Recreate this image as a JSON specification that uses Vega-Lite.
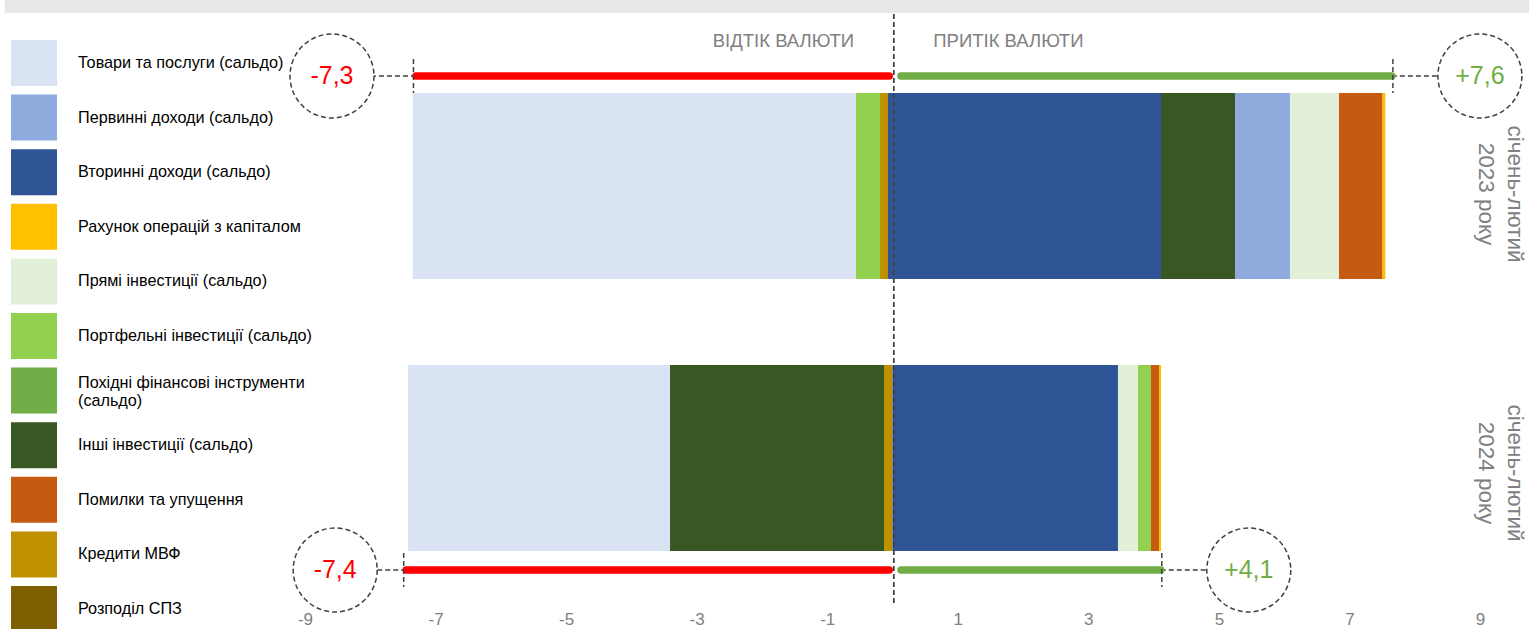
{
  "$schema": "https://vega.github.io/schema/vega-lite/v6.json",
  "autosize": "none",
  "width": 1175,
  "height": 590,
  "padding": {"left": 305, "top": 14, "right": 49, "bottom": 25},
  "background": "#ffffff",
  "config": {
    "view": {"stroke": null},
    "font": "Liberation Sans",
    "axisX": {"domain": false, "ticks": false, "grid": false, "labelFontSize": 17, "labelColor": "#808080", "labelPadding": 7, "labelFont": "Liberation Sans", "labelFlush": false, "title": null}
  },
  "datasets": {
    "bars": [
      {"period": "2023", "category": "Товари та послуги (сальдо)", "x0": -7.35, "x1": -0.559},
      {"period": "2023", "category": "Портфельні інвестиції (сальдо)", "x0": -0.559, "x1": -0.191},
      {"period": "2023", "category": "Кредити МВФ", "x0": -0.191, "x1": -0.069},
      {"period": "2023", "category": "Вторинні доходи (сальдо)", "x0": -0.069, "x1": 4.113},
      {"period": "2023", "category": "Інші інвестиції (сальдо)", "x0": 4.113, "x1": 5.247},
      {"period": "2023", "category": "Первинні доходи (сальдо)", "x0": 5.247, "x1": 6.089},
      {"period": "2023", "category": "Прямі інвестиції (сальдо)", "x0": 6.089, "x1": 6.84},
      {"period": "2023", "category": "Помилки та упущення", "x0": 6.84, "x1": 7.508},
      {"period": "2023", "category": "Рахунок операцій з капіталом", "x0": 7.508, "x1": 7.55},
      {"period": "2024", "category": "Товари та послуги (сальдо)", "x0": -7.42, "x1": -3.408},
      {"period": "2024", "category": "Інші інвестиції (сальдо)", "x0": -3.408, "x1": -0.13},
      {"period": "2024", "category": "Кредити МВФ", "x0": -0.13, "x1": 0},
      {"period": "2024", "category": "Вторинні доходи (сальдо)", "x0": 0, "x1": 3.454},
      {"period": "2024", "category": "Прямі інвестиції (сальдо)", "x0": 3.454, "x1": 3.761},
      {"period": "2024", "category": "Портфельні інвестиції (сальдо)", "x0": 3.761, "x1": 3.96},
      {"period": "2024", "category": "Помилки та упущення", "x0": 3.96, "x1": 4.083},
      {"period": "2024", "category": "Рахунок операцій з капіталом", "x0": 4.083, "x1": 4.114}
    ],
    "totals": [
      {"period": "2023", "side": "out", "end": -7.3, "inner": -0.05, "label": "-7,3"},
      {"period": "2023", "side": "in", "end": 7.65, "inner": 0.13, "label": "+7,6"},
      {"period": "2024", "side": "out", "end": -7.45, "inner": -0.05, "label": "-7,4"},
      {"period": "2024", "side": "in", "end": 4.11, "inner": 0.13, "label": "+4,1"}
    ],
    "periods": [
      {"period": "2023", "name": "січень-лютий\n2023 року"},
      {"period": "2024", "name": "січень-лютий\n2024 року"}
    ],
    "headers": [
      {"period": "2023", "text": "ВІДТІК ВАЛЮТИ", "side": "out"},
      {"period": "2023", "text": "ПРИТІК ВАЛЮТИ", "side": "in"}
    ],
    "band": [
      {"period": "2023", "from": -13.6, "to": 12}
    ]
  },
  "layer": [
    {
      "data": {"name": "band"},
      "mark": {"type": "rule", "stroke": "#e8e8e8", "strokeWidth": 13, "strokeCap": "butt", "yOffset": -179.5},
      "encoding": {
        "x": {"field": "from", "type": "quantitative"},
        "x2": {"field": "to"},
        "y": {"field": "period", "type": "nominal", "axis": null}
      }
    },
    {
      "data": {"name": "bars"},
      "mark": {"type": "bar"},
      "encoding": {
        "x": {"field": "x0", "type": "quantitative", "scale": {"domain": [-9, 9], "nice": false, "zero": false}, "axis": {"values": [-9, -7, -5, -3, -1, 1, 3, 5, 7, 9], "labelExpr": "'' + datum.value"}},
        "x2": {"field": "x1"},
        "y": {"field": "period", "type": "nominal", "axis": null, "scale": {"type": "band", "domain": ["2023", "2024"], "range": [79, 537], "paddingInner": 0.3162, "paddingOuter": 0, "round": false}},
        "color": {
          "field": "category",
          "type": "nominal",
          "scale": {
            "domain": ["Товари та послуги (сальдо)", "Первинні доходи (сальдо)", "Вторинні доходи (сальдо)", "Рахунок операцій з капіталом", "Прямі інвестиції (сальдо)", "Портфельні інвестиції (сальдо)", "Похідні фінансові інструменти (сальдо)", "Інші інвестиції (сальдо)", "Помилки та упущення", "Кредити МВФ", "Розподіл СПЗ"],
            "range": ["#DAE3F3", "#8FAADC", "#2F5597", "#FFC000", "#E2F0D9", "#92D050", "#70AD47", "#385723", "#C55A11", "#BF9000", "#7F6000"]
          },
          "legend": {
            "title": null,
            "orient": "none",
            "legendX": -294,
            "legendY": 26,
            "direction": "vertical",
            "columns": 1,
            "padding": 0,
            "symbolType": "square",
            "symbolSize": 2116,
            "symbolStrokeWidth": 0,
            "symbolOpacity": 1,
            "labelFontSize": 16.2,
            "labelFont": "Liberation Sans",
            "labelColor": "#000000",
            "labelLimit": 0,
            "labelOffset": 21,
            "rowPadding": 8.6,
            "labelBaseline": {"expr": "datum.label == 'Похідні фінансові інструменти (сальдо)' ? 'bottom' : 'middle'"},
            "labelExpr": "datum.label == 'Похідні фінансові інструменти (сальдо)' ? ['Похідні фінансові інструменти', '(сальдо)'] : ((datum.label == 'Прямі інвестиції (сальдо)' || datum.label == 'Портфельні інвестиції (сальдо)') ? '\u00a0' + datum.label : datum.label)"
          }
        }
      }
    },
    {
      "data": {"name": "totals"},
      "mark": {"type": "rule", "stroke": "#404040", "strokeWidth": 1.5, "strokeDash": [5, 3], "yOffset": {"expr": "datum.period == '2023' ? -110 : 112"}, "x2Offset": {"expr": "datum.side == 'out' ? (datum.period == '2023' ? -84 : -71) : 88"}},
      "encoding": {
        "x": {"field": "end", "type": "quantitative"},
        "x2": {"field": "end"},
        "y": {"field": "period", "type": "nominal", "axis": null}
      }
    },
    {
      "data": {"name": "totals"},
      "transform": [{"filter": "datum.side == 'out'"}],
      "mark": {"type": "rule", "stroke": "#FF0000", "strokeWidth": 7.5, "strokeCap": "round", "yOffset": {"expr": "datum.period == '2023' ? -110 : 112"}},
      "encoding": {
        "x": {"field": "end", "type": "quantitative"},
        "x2": {"field": "inner"},
        "y": {"field": "period", "type": "nominal", "axis": null}
      }
    },
    {
      "data": {"name": "totals"},
      "transform": [{"filter": "datum.side == 'in'"}],
      "mark": {"type": "rule", "stroke": "#70AD47", "strokeWidth": 7.5, "strokeCap": "round", "yOffset": {"expr": "datum.period == '2023' ? -110 : 112"}},
      "encoding": {
        "x": {"field": "inner", "type": "quantitative"},
        "x2": {"field": "end"},
        "y": {"field": "period", "type": "nominal", "axis": null}
      }
    },
    {
      "data": {"values": [{}]},
      "mark": {"type": "rule", "stroke": "#404040", "strokeWidth": 1.75, "strokeDash": [5, 3]},
      "encoding": {
        "x": {"datum": 0.02, "type": "quantitative"}
      }
    },
    {
      "data": {"name": "totals"},
      "mark": {"type": "point", "shape": "M0,-1L0,1", "size": 1156, "filled": false, "stroke": "#404040", "strokeWidth": 1.5, "strokeDash": [5, 3], "opacity": 1, "xOffset": {"expr": "datum.side == 'out' ? -2.5 : 1"}, "yOffset": {"expr": "datum.period == '2023' ? -110 : 112"}},
      "encoding": {
        "x": {"field": "end", "type": "quantitative"},
        "y": {"field": "period", "type": "nominal", "axis": null}
      }
    },
    {
      "data": {"name": "totals"},
      "mark": {"type": "point", "shape": "circle", "size": 7056, "filled": false, "fill": "#ffffff", "fillOpacity": 1, "stroke": "#404040", "strokeWidth": 1.5, "strokeDash": [5, 3], "opacity": 1, "xOffset": {"expr": "datum.side == 'out' ? (datum.period == '2023' ? -84 : -71) : 88"}, "yOffset": {"expr": "datum.period == '2023' ? -110 : 112"}},
      "encoding": {
        "x": {"field": "end", "type": "quantitative"},
        "y": {"field": "period", "type": "nominal", "axis": null}
      }
    },
    {
      "data": {"name": "totals"},
      "mark": {"type": "text", "fontSize": 25, "font": "Liberation Sans", "align": "center", "baseline": "middle", "fill": {"expr": "datum.side == 'out' ? '#FF0000' : '#70AD47'"}, "xOffset": {"expr": "datum.side == 'out' ? (datum.period == '2023' ? -84 : -71) : 88"}, "yOffset": {"expr": "datum.period == '2023' ? -110 : 112"}},
      "encoding": {
        "x": {"field": "end", "type": "quantitative"},
        "y": {"field": "period", "type": "nominal", "axis": null},
        "text": {"field": "label", "type": "nominal"}
      }
    },
    {
      "data": {"name": "headers"},
      "mark": {"type": "text", "fontSize": 18.5, "font": "Liberation Sans", "fill": "#808080", "baseline": "alphabetic", "align": {"expr": "datum.side == 'out' ? 'right' : 'left'"}, "xOffset": {"expr": "datum.side == 'out' ? -38.5 : 40.8"}, "yOffset": -139.3},
      "encoding": {
        "x": {"datum": 0, "type": "quantitative"},
        "y": {"field": "period", "type": "nominal", "axis": null},
        "text": {"field": "text", "type": "nominal"}
      }
    },
    {
      "data": {"name": "periods"},
      "mark": {"type": "text", "fontSize": 22.5, "font": "Liberation Sans", "fill": "#808080", "angle": 90, "align": "center", "baseline": "middle", "lineBreak": "\n", "lineHeight": 29, "yOffset": {"expr": "datum.period == '2023' ? 8 : 15"}},
      "encoding": {
        "x": {"datum": 9.54, "type": "quantitative"},
        "y": {"field": "period", "type": "nominal", "axis": null},
        "text": {"field": "name", "type": "nominal"}
      }
    }
  ]
}
